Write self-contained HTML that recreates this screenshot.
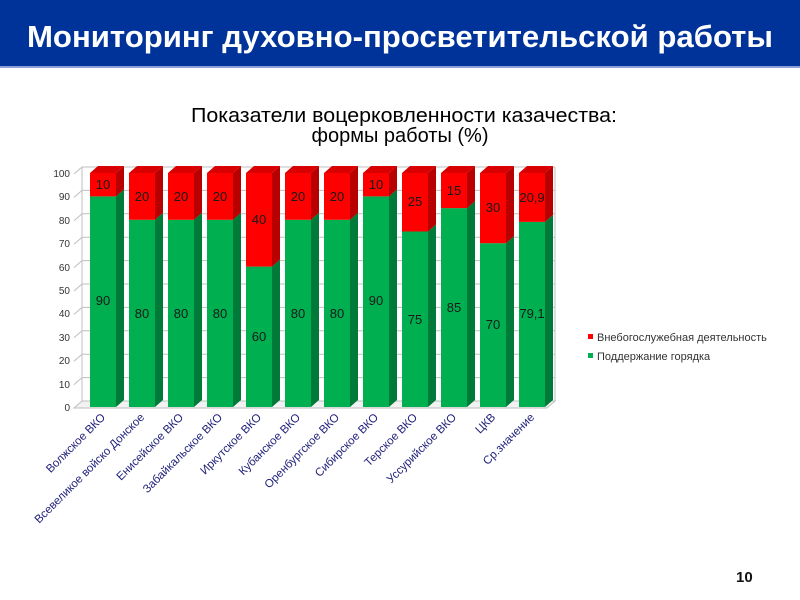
<!DOCTYPE html>
<html><head><meta charset="utf-8"><style>
body{margin:0;background:#fff;}
svg{display:block;font-family:"Liberation Sans",Arial,sans-serif;}
</style></head><body>
<svg width="800" height="600" viewBox="0 0 800 600">
<rect x="0" y="0" width="800" height="66" fill="#003399"/>
<rect x="0" y="66" width="800" height="2" fill="#8DA0D8"/>
<text x="27" y="47" textLength="746" lengthAdjust="spacingAndGlyphs" fill="#fff" font-size="31" font-weight="bold">Мониторинг духовно-просветительской работы</text>
<text x="191" y="122" textLength="426" lengthAdjust="spacingAndGlyphs" fill="#000" font-size="20">Показатели воцерковленности казачества:</text>
<text x="400" y="142" text-anchor="middle" fill="#000" font-size="20">формы работы (%)</text>
<g stroke="#bfbfbf" stroke-width="1" fill="none">
<path d="M74,408 L82,401 L555,401 L547,408 Z" fill="#f2f2f2"/>
<path d="M74,174 L82,167 L555,167"/>
<path d="M74,197.4 L82,190.4 L555,190.4"/>
<path d="M74,220.8 L82,213.8 L555,213.8"/>
<path d="M74,244.2 L82,237.2 L555,237.2"/>
<path d="M74,267.6 L82,260.6 L555,260.6"/>
<path d="M74,291 L82,284 L555,284"/>
<path d="M74,314.4 L82,307.4 L555,307.4"/>
<path d="M74,337.8 L82,330.8 L555,330.8"/>
<path d="M74,361.2 L82,354.2 L555,354.2"/>
<path d="M74,384.6 L82,377.6 L555,377.6"/>
<path d="M82,167 L82,401 M555,167 L555,401"/>
</g>
<g font-size="10" fill="#333" text-anchor="end">
<text x="70" y="177">100</text><text x="70" y="200">90</text><text x="70" y="224">80</text><text x="70" y="247">70</text><text x="70" y="271">60</text><text x="70" y="294">50</text><text x="70" y="317">40</text><text x="70" y="341">30</text><text x="70" y="364">20</text><text x="70" y="388">10</text><text x="70" y="411">0</text>
</g>
<g>
<g transform="translate(90,0)"><rect x="0" y="196.4" width="26" height="210.6" fill="#00B050"/><polygon points="26,196.4 34,189.4 34,400 26,407" fill="#007A38"/><rect x="0" y="173" width="26" height="23.4" fill="#FF0000"/><polygon points="26,173 34,166 34,189.4 26,196.4" fill="#B80000"/><polygon points="0,173 8,166 34,166 26,173" fill="#D80000"/></g>
<g transform="translate(129,0)"><rect x="0" y="219.8" width="26" height="187.2" fill="#00B050"/><polygon points="26,219.8 34,212.8 34,400 26,407" fill="#007A38"/><rect x="0" y="173" width="26" height="46.8" fill="#FF0000"/><polygon points="26,173 34,166 34,212.8 26,219.8" fill="#B80000"/><polygon points="0,173 8,166 34,166 26,173" fill="#D80000"/></g>
<g transform="translate(168,0)"><rect x="0" y="219.8" width="26" height="187.2" fill="#00B050"/><polygon points="26,219.8 34,212.8 34,400 26,407" fill="#007A38"/><rect x="0" y="173" width="26" height="46.8" fill="#FF0000"/><polygon points="26,173 34,166 34,212.8 26,219.8" fill="#B80000"/><polygon points="0,173 8,166 34,166 26,173" fill="#D80000"/></g>
<g transform="translate(207,0)"><rect x="0" y="219.8" width="26" height="187.2" fill="#00B050"/><polygon points="26,219.8 34,212.8 34,400 26,407" fill="#007A38"/><rect x="0" y="173" width="26" height="46.8" fill="#FF0000"/><polygon points="26,173 34,166 34,212.8 26,219.8" fill="#B80000"/><polygon points="0,173 8,166 34,166 26,173" fill="#D80000"/></g>
<g transform="translate(246,0)"><rect x="0" y="266.6" width="26" height="140.4" fill="#00B050"/><polygon points="26,266.6 34,259.6 34,400 26,407" fill="#007A38"/><rect x="0" y="173" width="26" height="93.6" fill="#FF0000"/><polygon points="26,173 34,166 34,259.6 26,266.6" fill="#B80000"/><polygon points="0,173 8,166 34,166 26,173" fill="#D80000"/></g>
<g transform="translate(285,0)"><rect x="0" y="219.8" width="26" height="187.2" fill="#00B050"/><polygon points="26,219.8 34,212.8 34,400 26,407" fill="#007A38"/><rect x="0" y="173" width="26" height="46.8" fill="#FF0000"/><polygon points="26,173 34,166 34,212.8 26,219.8" fill="#B80000"/><polygon points="0,173 8,166 34,166 26,173" fill="#D80000"/></g>
<g transform="translate(324,0)"><rect x="0" y="219.8" width="26" height="187.2" fill="#00B050"/><polygon points="26,219.8 34,212.8 34,400 26,407" fill="#007A38"/><rect x="0" y="173" width="26" height="46.8" fill="#FF0000"/><polygon points="26,173 34,166 34,212.8 26,219.8" fill="#B80000"/><polygon points="0,173 8,166 34,166 26,173" fill="#D80000"/></g>
<g transform="translate(363,0)"><rect x="0" y="196.4" width="26" height="210.6" fill="#00B050"/><polygon points="26,196.4 34,189.4 34,400 26,407" fill="#007A38"/><rect x="0" y="173" width="26" height="23.4" fill="#FF0000"/><polygon points="26,173 34,166 34,189.4 26,196.4" fill="#B80000"/><polygon points="0,173 8,166 34,166 26,173" fill="#D80000"/></g>
<g transform="translate(402,0)"><rect x="0" y="231.5" width="26" height="175.5" fill="#00B050"/><polygon points="26,231.5 34,224.5 34,400 26,407" fill="#007A38"/><rect x="0" y="173" width="26" height="58.5" fill="#FF0000"/><polygon points="26,173 34,166 34,224.5 26,231.5" fill="#B80000"/><polygon points="0,173 8,166 34,166 26,173" fill="#D80000"/></g>
<g transform="translate(441,0)"><rect x="0" y="208.1" width="26" height="198.9" fill="#00B050"/><polygon points="26,208.1 34,201.1 34,400 26,407" fill="#007A38"/><rect x="0" y="173" width="26" height="35.1" fill="#FF0000"/><polygon points="26,173 34,166 34,201.1 26,208.1" fill="#B80000"/><polygon points="0,173 8,166 34,166 26,173" fill="#D80000"/></g>
<g transform="translate(480,0)"><rect x="0" y="243.2" width="26" height="163.8" fill="#00B050"/><polygon points="26,243.2 34,236.2 34,400 26,407" fill="#007A38"/><rect x="0" y="173" width="26" height="70.2" fill="#FF0000"/><polygon points="26,173 34,166 34,236.2 26,243.2" fill="#B80000"/><polygon points="0,173 8,166 34,166 26,173" fill="#D80000"/></g>
<g transform="translate(519,0)"><rect x="0" y="221.9" width="26" height="185.1" fill="#00B050"/><polygon points="26,221.9 34,214.9 34,400 26,407" fill="#007A38"/><rect x="0" y="173" width="26" height="48.9" fill="#FF0000"/><polygon points="26,173 34,166 34,214.9 26,221.9" fill="#B80000"/><polygon points="0,173 8,166 34,166 26,173" fill="#D80000"/></g>
</g>
<g font-size="13" fill="#1a1a1a" text-anchor="middle">
<text x="103" y="189">10</text><text x="103" y="305">90</text>
<text x="142" y="201">20</text><text x="142" y="318">80</text>
<text x="181" y="201">20</text><text x="181" y="318">80</text>
<text x="220" y="201">20</text><text x="220" y="318">80</text>
<text x="259" y="224">40</text><text x="259" y="341">60</text>
<text x="298" y="201">20</text><text x="298" y="318">80</text>
<text x="337" y="201">20</text><text x="337" y="318">80</text>
<text x="376" y="189">10</text><text x="376" y="305">90</text>
<text x="415" y="206">25</text><text x="415" y="324">75</text>
<text x="454" y="195">15</text><text x="454" y="312">85</text>
<text x="493" y="212">30</text><text x="493" y="329">70</text>
<text x="532" y="202">20,9</text><text x="532" y="318">79,1</text>
</g>
<g font-size="11.5" fill="#1F1F7A" text-anchor="end">
<text transform="translate(106,418) rotate(-45)">Волжское ВКО</text>
<text transform="translate(145,418) rotate(-45)">Всевеликое войско Донское</text>
<text transform="translate(184,418) rotate(-45)">Енисейское ВКО</text>
<text transform="translate(223,418) rotate(-45)">Забайкальское ВКО</text>
<text transform="translate(262,418) rotate(-45)">Иркутское ВКО</text>
<text transform="translate(301,418) rotate(-45)">Кубанское ВКО</text>
<text transform="translate(340,418) rotate(-45)">Оренбургское ВКО</text>
<text transform="translate(379,418) rotate(-45)">Сибирское ВКО</text>
<text transform="translate(418,418) rotate(-45)">Терское ВКО</text>
<text transform="translate(457,418) rotate(-45)">Уссурийское ВКО</text>
<text transform="translate(496,418) rotate(-45)">ЦКВ</text>
<text transform="translate(535,418) rotate(-45)">Ср.значение</text>
</g>
<rect x="588" y="334" width="5" height="5" fill="#FF0000"/>
<rect x="588" y="353" width="5" height="5" fill="#00B050"/>
<g font-size="11" fill="#333">
<text x="597" y="341">Внебогослужебная деятельность</text>
<text x="597" y="360">Поддержание горядка</text>
</g>
<text x="736" y="582" font-size="15" font-weight="bold" fill="#111">10</text>
</svg>
</body></html>
